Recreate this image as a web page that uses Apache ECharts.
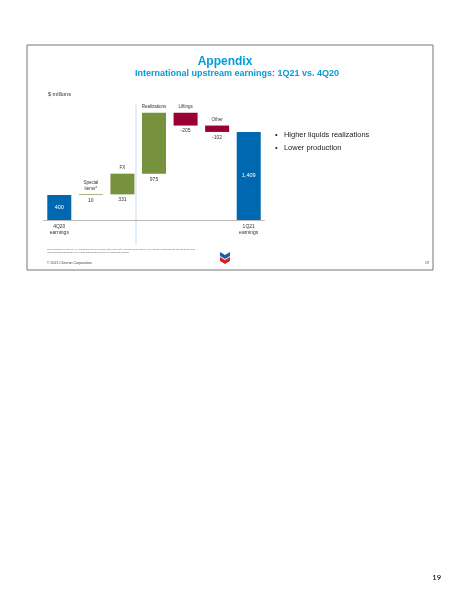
<!DOCTYPE html>
<html><head><meta charset="utf-8">
<script src="https://cdn.jsdelivr.net/npm/echarts@6/dist/echarts.min.js"></script>
<style>html,body{margin:0;padding:0;background:#fff}#c{width:454px;height:600px}</style>
</head><body><div id="c"></div>
<script>
const categories = ['4Q20\nearnings','Special\nitems*','FX','Realizations','Liftings','Other','1Q21\nearnings'];
const values = [400, 10, 331, 975, -205, -102, 1409];
const kinds = ['total','delta','delta','delta','delta','delta','total'];
const valueText = ['400','10','331','975','-205','-102','1,409'];

const BLUE='#0067b1', GREEN='#76923c', RED='#990033';
let run=0; const base=[], bar=[], cap=[];
values.forEach((v,i)=>{
  if(kinds[i]==='total'){ base.push(0); bar.push({value:v,itemStyle:{color:BLUE},label:{show:true,position:'inside',color:'#fff',fontSize:5.5,formatter:valueText[i]}}); cap.push(0); run=v; }
  else {
    const lo=Math.min(run,run+v), hi=Math.max(run,run+v);
    base.push(lo);
    bar.push({value:hi-lo,itemStyle:{color:v>0?GREEN:RED},label:{show:true,position:'bottom',color:'#333',fontSize:5,distance:3,formatter:valueText[i]}});
    cap.push({value:0,label:{show:true,position:'top',color:'#333',fontSize:4.5,lineHeight:6,distance:3,formatter:categories[i]}});
    run+=v;
  }
});
const chart=echarts.init(document.getElementById('c'));
chart.setOption({
  animation:false,
  grid:{left:43.5,right:454-264.5,top:107.5,bottom:380},
  xAxis:{type:'category',data:categories,axisTick:{show:false},axisLine:{lineStyle:{color:'#aaa',width:0.8}},
    axisLabel:{fontSize:5,color:'#333',lineHeight:6,margin:4,formatter:(v,i)=>kinds[i]==='total'?v:''}},
  yAxis:{type:'value',min:0,max:1800,show:false},
  series:[
    {type:'bar',stack:'w',data:base,itemStyle:{color:'transparent'},barWidth:24},
    {type:'bar',stack:'w',data:bar,barWidth:24},
    {type:'bar',stack:'w',data:cap,barWidth:24,itemStyle:{color:'transparent'}}
  ],
  graphic:[
    {type:'rect',shape:{x:27,y:45,width:406,height:225},style:{fill:'none',stroke:'#777',lineWidth:1}},
    {type:'line',shape:{x1:136,y1:104,x2:136,y2:244},style:{stroke:'#9cc8e6',lineWidth:0.6}},
    {type:'text',x:225,y:62,style:{text:'Appendix',font:'bold 12px Arial, Liberation Sans',fill:'#009dd9',align:'center',verticalAlign:'middle'}},
    {type:'text',x:237,y:74,style:{text:'International upstream earnings: 1Q21 vs. 4Q20',font:'bold 9px Arial, Liberation Sans',fill:'#009dd9',align:'center',verticalAlign:'middle'}},
    {type:'text',x:48,y:94,style:{text:'$ millions',font:'5.5px Arial, Liberation Sans',fill:'#333',verticalAlign:'middle'}},
    {type:'text',x:275,y:135,style:{text:'•   Higher liquids realizations',font:'7.5px Arial, Liberation Sans',fill:'#222',verticalAlign:'middle'}},
    {type:'text',x:275,y:148,style:{text:'•   Lower production',font:'7.5px Arial, Liberation Sans',fill:'#222',verticalAlign:'middle'}},
    {type:'text',x:47,y:248,style:{text:'Reconciliation of non-GAAP measures can be found in the appendix. Special items and FX are shown excluding the effects of tax and\nnoncontrolling interests. See 1Q21 Earnings Release for additional details.',font:'2.5px Arial',fill:'#666',lineHeight:3}},
    {type:'text',x:47,y:263,style:{text:'© 2021 Chevron Corporation',font:'3.5px Arial',fill:'#444',verticalAlign:'middle'}},
    {type:'text',x:429,y:263,style:{text:'19',font:'3.5px Arial',fill:'#444',align:'right',verticalAlign:'middle'}},
    {type:'polygon',shape:{points:[[220,252],[225,255],[230,252],[230,256],[225,259],[220,256]]},style:{fill:'#1f5aa8'}},
    {type:'polygon',shape:{points:[[220,257],[225,260],[230,257],[230,261],[225,264],[220,261]]},style:{fill:'#d4202c'}},
    {type:'text',x:441,y:578,style:{text:'19',font:'9px Calibri, Carlito, Liberation Sans',fill:'#000',align:'right',verticalAlign:'middle'}}
  ]
});
</script></body></html>
